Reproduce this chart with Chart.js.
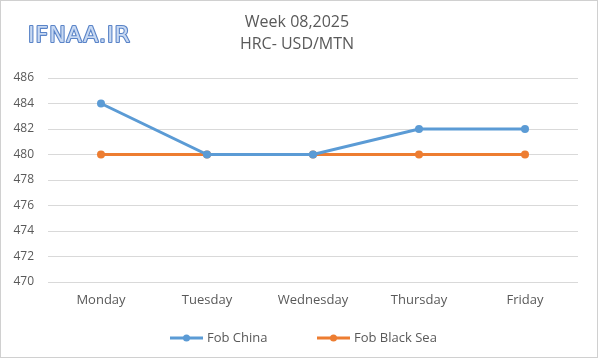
<!DOCTYPE html>
<html>
<head>
<meta charset="utf-8">
<script src="https://cdn.jsdelivr.net/npm/chart.js@4"></script>
<style>
  html, body { margin: 0; padding: 0; background: #fff; }
  #wrap { width: 600px; height: 360px; position: relative; }
</style>
</head>
<body>
<div id="wrap"><canvas id="c" width="600" height="360"></canvas></div>
<script>
const days = ["Monday", "Tuesday", "Wednesday", "Thursday", "Friday"];
const fobChina = [484, 480, 480, 482, 482];
const fobBlackSea = [480, 480, 480, 480, 480];
const titleLines = ["Week 08,2025", "HRC- USD/MTN"];
const yMin = 470, yMax = 486, yStep = 2;

const BLUE = "#5B9BD5";
const ORANGE = "#ED7D31";
const TEXT = "#595959";
const FONT = "'Open Sans', 'Liberation Sans', sans-serif";

// frame, logo, two-line title and the Excel-style legend (line + dot)
const decor = {
  id: "decor",
  beforeDraw(chart) {
    const ctx = chart.ctx;
    ctx.save();
    ctx.fillStyle = "#fff";
    ctx.fillRect(0, 0, chart.width, chart.height);
    ctx.restore();
  },
  afterDraw(chart) {
    const ctx = chart.ctx;
    ctx.save();
    ctx.strokeStyle = "#D0D0D0";
    ctx.lineWidth = 1;
    ctx.strokeRect(0.5, 0.5, chart.width - 3, chart.height - 3);

    // logo
    ctx.font = "22px 'DejaVu Sans', sans-serif";
    ctx.letterSpacing = "1px";
    ctx.textBaseline = "alphabetic";
    ctx.textAlign = "left";
    ctx.lineJoin = "round";
    ctx.lineWidth = 2.2;
    ctx.strokeStyle = "#5A84C8";
    ctx.strokeText("IFNAA.IR", 28, 42);
    ctx.fillStyle = "#C8D9F2";
    ctx.fillText("IFNAA.IR", 28, 42);
    ctx.letterSpacing = "0px";

    // title
    ctx.fillStyle = TEXT;
    ctx.textAlign = "center";
    ctx.textBaseline = "middle";
    ctx.font = "16px " + FONT;
    ctx.fillText(titleLines[0], 297, 22);
    ctx.fillText(titleLines[1], 297, 44);

    // legend
    const items = chart.data.datasets.map((d) => ({ label: d.label, color: d.borderColor }));
    const xs = [170, 317];
    ctx.font = "13px " + FONT;
    ctx.textAlign = "left";
    items.forEach((it, i) => {
      const x = xs[i], y = 338;
      ctx.strokeStyle = it.color;
      ctx.lineWidth = 3;
      ctx.beginPath();
      ctx.moveTo(x, y);
      ctx.lineTo(x + 33, y);
      ctx.stroke();
      ctx.fillStyle = it.color;
      ctx.beginPath();
      ctx.arc(x + 16.5, y, 3.5, 0, Math.PI * 2);
      ctx.fill();
      ctx.fillStyle = TEXT;
      ctx.fillText(it.label, x + 37, y);
    });
    ctx.restore();
  }
};

new Chart(document.getElementById("c"), {
  type: "line",
  data: {
    labels: days,
    datasets: [
      { label: "Fob China", data: fobChina, borderColor: BLUE, backgroundColor: BLUE,
        borderWidth: 3, pointRadius: 4, pointBackgroundColor: BLUE, pointBorderWidth: 0, tension: 0 },
      { label: "Fob Black Sea", data: fobBlackSea, borderColor: ORANGE, backgroundColor: ORANGE,
        borderWidth: 3, pointRadius: 4, pointBackgroundColor: ORANGE, pointBorderWidth: 0, tension: 0 }
    ]
  },
  options: {
    responsive: false,
    animation: false,
    devicePixelRatio: 1,
    layout: { padding: { top: 78, right: 22, left: 0, bottom: 0 } },
    plugins: {
      legend: { display: false },
      title: { display: false },
      tooltip: { enabled: false }
    },
    scales: {
      x: {
        offset: true,
        grid: { display: false, drawTicks: false },
        border: { display: false },
        ticks: { color: TEXT, font: { family: FONT, size: 13 }, padding: 10, maxRotation: 0 },
        afterFit: (s) => { s.height = 78; }
      },
      y: {
        min: yMin, max: yMax,
        grid: { color: "#D9D9D9", drawTicks: false, lineWidth: 1 },
        border: { display: false },
        ticks: { stepSize: yStep, color: TEXT, font: { family: FONT, size: 12 }, padding: 14 },
        afterFit: (s) => { s.width = 48; }
      }
    }
  },
  plugins: [decor]
});
</script>
</body>
</html>
